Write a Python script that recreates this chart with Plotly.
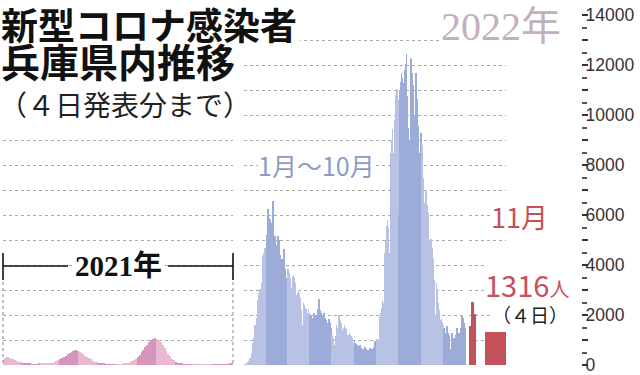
import plotly.graph_objects as go
import pandas as pd

# ---------------- data ----------------
# 2021: Hyogo new cases, averaged per 3-day period (Jan 1 - Dec 31, 2021)
cases_2021_3day = [
    220, 280, 320, 300, 260, 230, 200, 170, 140, 110, 90, 70,
    60, 50, 45, 40, 40, 35, 40, 45, 40, 50, 55, 60, 70,
    80, 100, 120, 150, 190, 230, 280, 330, 380, 430, 480, 530, 570, 600,
    560, 520, 480, 430, 380, 330, 280, 230, 180, 140, 110, 90, 70, 55,
    45, 40, 35, 30, 30, 25, 25, 30, 30, 35, 40, 50, 60, 80,
    110, 150, 200, 260, 330, 420, 520, 620, 720, 820, 920, 1000, 1060, 1080,
    1050, 1000, 920, 820, 700, 580, 460, 350, 260, 190, 140, 100,
    75, 55, 40, 30, 25, 20, 15, 12, 10, 10, 8, 8, 7, 7, 6, 6, 7, 8, 8,
    10, 10, 12, 15, 18, 22, 28, 35, 45, 60,
]

# 2022: daily new cases, Jan 1 (Sat) - Oct 31, one row per week (Sat..Fri)
cases_2022 = [
    30, 40, 35, 60, 90, 120, 180,
    250, 300, 170, 500, 770, 900, 1100,
    1500, 1600, 1000, 1900, 2300, 2600, 2900,
    3040, 2900, 1700, 3300, 4100, 4370, 4500,
    4700, 4300, 2800, 5200, 6240, 6100, 5900,
    5800, 5200, 3300, 5700, 6570, 6500, 4800,
    5170, 4800, 2700, 4600, 5170, 5000, 4600,
    4400, 4000, 2300, 4240, 3300, 4640, 4200,
    3840, 3500, 1900, 3700, 3840, 3700, 3500,
    3400, 3100, 1700, 3200, 3570, 3500, 3300,
    3100, 2800, 1500, 2900, 3000, 2900, 2700,
    2500, 2200, 1300, 1600, 2500, 2400, 2300,
    2240, 2000, 1200, 2100, 2240, 2100, 2000,
    1970, 1800, 1000, 1900, 2100, 2000, 1900,
    2000, 1800, 1100, 2240, 2640, 2300, 2200,
    2100, 1900, 1000, 2000, 2100, 1900, 1840,
    1800, 1600, 900, 1700, 1840, 1700, 1300,
    1500, 1200, 900, 1100, 800, 700, 1170,
    1600, 1500, 900, 1840, 2000, 1800, 1700,
    1600, 1400, 800, 1500, 1600, 1500, 1440,
    1300, 1200, 650, 1200, 1300, 1200, 1170,
    1100, 900, 500, 900, 1000, 900, 850,
    800, 700, 400, 750, 800, 720, 700,
    650, 600, 300, 650, 720, 680, 640,
    600, 550, 280, 600, 700, 650, 620,
    640, 600, 300, 720, 970, 900, 1000,
    1040, 1000, 600, 1400, 1970, 2100, 2300,
    2600, 2500, 1500, 3440, 4500, 5000, 5570,
    5800, 5500, 3500, 4500, 7440, 8500, 9000,
    9440, 8500, 5200, 9800, 10370, 10800, 11040,
    10600, 9500, 6000, 11000, 11320, 11700, 11500,
    11300, 10000, 6500, 11800, 12040, 12440, 10770,
    9500, 8500, 5840, 9000, 12240, 12300, 11700,
    11200, 10000, 6000, 10000, 11700, 10640, 10200,
    9570, 8500, 4800, 8500, 9300, 8800, 7970,
    7500, 6500, 3600, 6600, 7000, 6400, 6100,
    5600, 5000, 2600, 4600, 5040, 4700, 4300,
    3840, 3400, 1500, 2000, 3300, 3040, 1800,
    2500, 2200, 900, 1800, 1900, 1710, 1600,
    1500, 1300, 600, 1300, 1570, 1400, 1300,
    1200, 1000, 500, 640, 1300, 1200, 1100,
    1100, 1000, 500, 1200, 1500, 1400, 1300,
    1300, 1200, 600, 1500, 2000, 1900, 1700,
    1700, 1500, 800,
]

# November 2022 (announced up to the 4th)
nov_labels = ["11/1", "11/2", "11/3", "11/4"]
nov_values = [1570, 2530, 2040, 1316]

y_tick_values = list(range(0, 14001, 1000))
y_tick_labels = [str(v) if v % 2000 == 0 else "" for v in y_tick_values]

# ---------------- styling ----------------
W, H = 640, 375
L, R, T, B = 0, 59, 15, 10
PW, PH = W - L - R, H - T - B
Y0 = H - B  # pixel row of value 0


def px(x, y):
    return x / PW, (Y0 - y) / PH


PINK_L, PINK_D = "#e8b8d5", "#d595be"
BLUE_L, BLUE_D = "#b7c2e4", "#9cabd8"
RED = "#c4505a"
JP = "Noto Sans CJK JP, Noto Sans, sans-serif"
SERIF = "Liberation Serif, DejaVu Serif, Noto Sans CJK JP, serif"

dates21 = pd.date_range("2021-01-01", "2021-12-31")
x21 = [3 * i + 1.5 for i in range(len(cases_2021_3day))]
col21 = [PINK_L if dates21[min(3 * i + 1, len(dates21) - 1)].month % 2 else PINK_D
         for i in range(len(cases_2021_3day))]

dates22 = pd.date_range("2022-01-01", periods=len(cases_2022))
x22 = [i + 0.5 for i in range(len(cases_2022))]
col22 = [BLUE_L if d.month % 2 else BLUE_D for d in dates22]

# November: three narrow daily bars, then the highlighted 4th as a wide block
nov_x = [0.5, 1.5, 2.5, 10.55]
nov_w = [1, 1, 1, 8.5]

fig = go.Figure()
fig.add_trace(go.Bar(x=x21, y=cases_2021_3day, width=3, marker=dict(color=col21, line=dict(width=0)),
                     xaxis="x", yaxis="y", hoverinfo="skip"))
fig.add_trace(go.Bar(x=x22, y=cases_2022, width=1, marker=dict(color=col22, line=dict(width=0)),
                     xaxis="x2", yaxis="y", hoverinfo="skip"))
fig.add_trace(go.Bar(x=nov_x, y=nov_values, width=nov_w, marker=dict(color=RED, line=dict(width=0)),
                     xaxis="x3", yaxis="y", hoverinfo="skip", customdata=nov_labels))

fig.update_layout(
    width=W, height=H,
    margin=dict(l=L, r=R, t=T, b=B, pad=0, autoexpand=False),
    paper_bgcolor="white", plot_bgcolor="white",
    showlegend=False, barmode="overlay", bargap=0,
    xaxis=dict(domain=[3 / PW, 233 / PW], range=[0, 365], visible=False, anchor="y", automargin=False),
    xaxis2=dict(domain=[244 / PW, 466 / PW], range=[0, 304], visible=False, anchor="y", automargin=False),
    xaxis3=dict(domain=[469 / PW, 506 / PW], range=[0, 15], visible=False, anchor="y", automargin=False),
    yaxis=dict(
        side="right", anchor="free", position=1.0, automargin=False,
        range=[0, 14000], tickvals=y_tick_values, ticktext=y_tick_labels,
        showgrid=True, gridcolor="#a8a8a8", griddash="dot", gridwidth=1,
        zeroline=False, showline=False,
        ticks="outside", ticklen=6, tickwidth=2, tickcolor="#333",
        minor=dict(tickvals=[v + 500 for v in y_tick_values[:-1]], ticks="outside",
                   ticklen=5, tickwidth=1.5, tickcolor="#555", showgrid=False),
        tickfont=dict(family="Liberation Sans Narrow, Liberation Sans, sans-serif",
                      size=17.5, color="#333"),
        ticklabelstandoff=-6, ticklabeloverflow="allow",
    ),
)

shapes = []


def box(xa, ya, xb, yb, color="white"):
    p0, p1 = px(xa, ya), px(xb, yb)
    shapes.append(dict(type="rect", xref="paper", yref="paper", x0=p0[0], y0=p1[1], x1=p1[0], y1=p0[1],
                       fillcolor=color, line=dict(width=0), layer="above"))


def seg(xa, ya, xb, yb, color="#111", width=1.6, dash="solid"):
    p0, p1 = px(xa, ya), px(xb, yb)
    shapes.append(dict(type="line", xref="paper", yref="paper", x0=p0[0], y0=p0[1], x1=p1[0], y1=p1[1],
                       line=dict(color=color, width=width, dash=dash)))


# white backing behind the title block (hides gridlines there)
box(0, 0, 300, 42)
box(0, 42, 242, 80)
box(0, 88, 243, 120)

# 2021 bracket
seg(3, 266, 68, 266)
seg(168, 266, 233, 266)
seg(3, 253, 3, 280)
seg(233, 253, 233, 280)
seg(3, 282, 3, 365, color="#9a9a9a", width=1.2, dash="dot")
seg(233, 282, 233, 365, color="#9a9a9a", width=1.2, dash="dot")

ann = []


def text(t, x, y, size, color="#111", family=JP, bg="white", xanchor="left"):
    ax, ay = px(x, y)
    ann.append(dict(text=t, x=ax, y=ay, xref="paper", yref="paper", xanchor=xanchor, yanchor="middle",
                    showarrow=False, font=dict(family=family, size=size, color=color),
                    bgcolor=bg, borderpad=0))


text("<b>新型コロナ感染者</b>", 0, 24, 37, bg=None)
text("<b>兵庫県内推移</b>", 0, 60, 39, bg=None)
text("（４日発表分まで）", -2, 104, 28, color="#222", bg=None)
text("2022年", 440, 27, 40, color="#c4b0ba", family=SERIF)
text("<b>2021年</b>", 118, 266, 29, family=SERIF, xanchor="center")
text("1月～10月", 257, 165, 25, color="#8d9cc6")
text("11月", 490, 216, 27, color=RED)
text("（４日）", 491, 314, 19, color="#222")
text("1316<span style='font-size:20px'>人</span>", 484, 284, 29, color=RED)

fig.update_layout(shapes=shapes, annotations=ann)
fig.write_html("out.html")
